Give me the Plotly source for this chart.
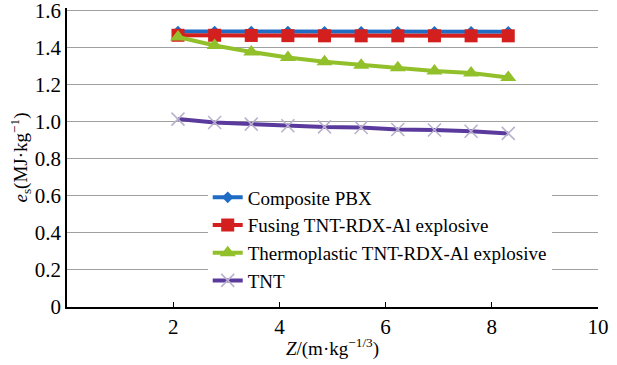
import plotly.graph_objects as go

z_vals = [2.09, 2.78, 3.47, 4.16, 4.85, 5.54, 6.23, 6.92, 7.61, 8.31]
pbx = [1.485, 1.485, 1.485, 1.485, 1.484, 1.484, 1.484, 1.484, 1.484, 1.484]
fusing = [1.465, 1.465, 1.464, 1.463, 1.462, 1.462, 1.462, 1.462, 1.462, 1.462]
thermo = [1.456, 1.41, 1.375, 1.345, 1.322, 1.304, 1.29, 1.273, 1.262, 1.237]
tnt = [1.013, 0.995, 0.986, 0.977, 0.971, 0.968, 0.957, 0.954, 0.948, 0.936]

names = ["Composite PBX", "Fusing TNT-RDX-Al explosive",
         "Thermoplastic TNT-RDX-Al explosive", "TNT"]
y_ticks = [0, 0.2, 0.4, 0.6, 0.8, 1.0, 1.2, 1.4, 1.6]
y_tick_text = ["0", "0.2", "0.4", "0.6", "0.8", "1.0", "1.2", "1.4", "1.6"]
x_ticks = [2, 4, 6, 8, 10]

font_family = "'Liberation Serif', 'DejaVu Serif', serif"

fig = go.Figure()
fig.add_trace(go.Scatter(x=z_vals, y=pbx, name=names[0], mode="lines+markers",
                         line=dict(color="#1f6cc4", width=4),
                         marker=dict(symbol="diamond", size=9, color="#1f6cc4")))
fig.add_trace(go.Scatter(x=z_vals, y=fusing, name=names[1], mode="lines+markers",
                         line=dict(color="#d41f1f", width=4),
                         marker=dict(symbol="square", size=13, color="#d41f1f")))
fig.add_trace(go.Scatter(x=z_vals, y=thermo, name=names[2], mode="lines+markers",
                         line=dict(color="#92c02a", width=4),
                         marker=dict(symbol="triangle-up", size=14, color="#92c02a")))
fig.add_trace(go.Scatter(x=z_vals, y=tnt, name=names[3], mode="lines+markers",
                         line=dict(color="#5a3a9c", width=4),
                         marker=dict(symbol="x-thin", size=13,
                                     line=dict(color="#b8b0cc", width=1.5))))

fig.update_layout(
    template="none",
    width=617, height=365,
    margin=dict(l=67, r=19, t=8, b=58, autoexpand=False),
    paper_bgcolor="white", plot_bgcolor="white",
    font=dict(family=font_family, size=19, color="black"),
    showlegend=True,
    legend=dict(x=0.265, y=0.43, xanchor="left", yanchor="top",
                bgcolor="white", borderwidth=0,
                font=dict(family=font_family, size=19, color="black"),
                tracegroupgap=0, itemsizing="trace"),
    xaxis=dict(range=[0, 10], tickvals=x_ticks, showgrid=False,
               showline=True, linecolor="black", linewidth=1.5,
               ticks="inside", ticklen=5, tickcolor="black",
               tickfont=dict(family=font_family, size=21, color="black"),
               ticklabeloverflow="allow",
               zeroline=False, automargin=False,
               title=dict(text="<i>Z</i>/(m·kg<sup>−1/3</sup>)",
                          font=dict(family=font_family, size=19, color="black"),
                          standoff=4)),
    yaxis=dict(range=[0, 1.612], tickvals=y_ticks, ticktext=y_tick_text,
               showgrid=True, gridcolor="#a0a0a0", gridwidth=1.2,
               showline=True, linecolor="black", linewidth=1.5,
               ticks="", tickfont=dict(family=font_family, size=21, color="black"),
               ticklabeloverflow="allow",
               zeroline=False, automargin=False,
               title=dict(text="<i>e</i><sub>s</sub>(MJ·kg<sup>−1</sup>)",
                          font=dict(family=font_family, size=19, color="black"),
                          standoff=2)),
)

fig.write_html("out.html", config={"displayModeBar": False},
               post_script="document.body.style.margin='0';document.body.style.overflow='hidden';")
